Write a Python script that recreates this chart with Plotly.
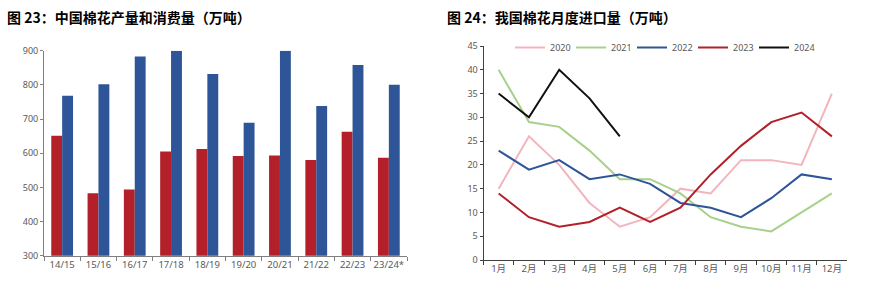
import plotly.graph_objects as go

# Left chart data
seasons = ["14/15", "15/16", "16/17", "17/18", "18/19", "19/20", "20/21", "21/22", "22/23", "23/24*"]
production = [651, 483, 494, 605, 612, 592, 593, 580, 663, 587]
consumption = [768, 802, 883, 900, 832, 689, 900, 738, 858, 800]

# Right chart data
months = ["1月", "2月", "3月", "4月", "5月", "6月", "7月", "8月", "9月", "10月", "11月", "12月"]
imp_2020 = [15, 26, 20, 12, 7, 9, 15, 14, 21, 21, 20, 35]
imp_2021 = [40, 29, 28, 23, 17, 17, 14, 9, 7, 6, 10, 14]
imp_2022 = [23, 19, 21, 17, 18, 16, 12, 11, 9, 13, 18, 17]
imp_2023 = [14, 9, 7, 8, 11, 8, 11, 18, 24, 29, 31, 26]
imp_2024 = [35, 30, 40, 34, 26]

W, H = 871, 295
RED = "#B3202A"
BLUE = "#2E5597"
TICKFONT = dict(family="Noto Sans, Noto Sans CJK SC", size=9, color="#595959")
XTICKFONT = dict(family="Noto Sans, Noto Sans CJK SC", size=9.5, color="#595959")
AXCOL = "#7F7F7F"

fig = go.Figure()

fig.add_trace(go.Bar(x=seasons, y=production, marker=dict(color=RED, line_width=0),
                     xaxis="x", yaxis="y", showlegend=False, name="产量"))
fig.add_trace(go.Bar(x=seasons, y=consumption, marker=dict(color=BLUE, line_width=0),
                     xaxis="x", yaxis="y", showlegend=False, name="消费量"))

series = [("2020", imp_2020, "#F2B5BD"), ("2021", imp_2021, "#A8D08D"),
          ("2022", imp_2022, "#2E5597"), ("2023", imp_2023, "#B3202A"),
          ("2024", imp_2024, "#111111")]
for name, vals, col in series:
    fig.add_trace(go.Scatter(x=months[:len(vals)], y=vals, mode="lines", name=name,
                             line=dict(color=col, width=2), xaxis="x2", yaxis="y2"))

fig.update_layout(
    width=W, height=H,
    margin=dict(l=0, r=0, t=0, b=0, autoexpand=False),
    paper_bgcolor="white", plot_bgcolor="white",
    barmode="group", bargap=0.4, bargroupgap=0,
    xaxis=dict(domain=[44 / W, 407 / W], anchor="y", type="category", automargin=False,
               showline=True, linecolor=AXCOL, linewidth=1, ticks="outside",
               tickson="boundaries", ticklen=4, tickcolor=AXCOL, tickangle=0,
               tickfont=XTICKFONT, showgrid=False),
    yaxis=dict(domain=[1 - 255.7 / H, 1 - 50.7 / H], anchor="x", range=[300, 900],
               automargin=False,
               dtick=100, showline=True, linecolor=AXCOL, linewidth=1,
               ticks="outside", ticklen=3, tickcolor=AXCOL, tickfont=TICKFONT,
               showgrid=False, zeroline=False),
    xaxis2=dict(domain=[483.5 / W, 847 / W], anchor="y2", type="category", automargin=False,
                range=[-0.5, len(months) - 0.5],
                showline=True, linecolor="#404040", linewidth=1, ticks="outside",
                tickson="boundaries", ticklen=4, tickcolor="#404040", tickangle=0,
                tickfont=XTICKFONT, showgrid=False),
    yaxis2=dict(domain=[1 - 260 / H, 1 - 46 / H], anchor="x2", range=[0, 45],
                automargin=False,
                dtick=5, showline=True, linecolor="#404040", linewidth=1,
                ticks="outside", ticklen=3, tickcolor="#404040", tickfont=TICKFONT,
                showgrid=False, zeroline=False),
    legend=dict(orientation="h", x=510 / W, y=1 - 47.5 / H, xanchor="left", yanchor="middle",
                font=dict(family="Noto Sans", size=9, color="#595959"),
                entrywidth=16, entrywidthmode="pixels", itemwidth=30,
                bgcolor="rgba(0,0,0,0)", tracegroupgap=0),
    annotations=[
        dict(text="<b>图 23：中国棉花产量和消费量（万吨）</b>", x=5 / W, y=1 - 17 / H,
             xref="paper", yref="paper", xanchor="left", yanchor="middle", showarrow=False,
             font=dict(family="Noto Sans CJK SC", size=14, color="#000000")),
        dict(text="<b>图 24：我国棉花月度进口量（万吨）</b>", x=445 / W, y=1 - 17 / H,
             xref="paper", yref="paper", xanchor="left", yanchor="middle", showarrow=False,
             font=dict(family="Noto Sans CJK SC", size=14, color="#000000")),
    ],
)

fig.write_html("out.html")
